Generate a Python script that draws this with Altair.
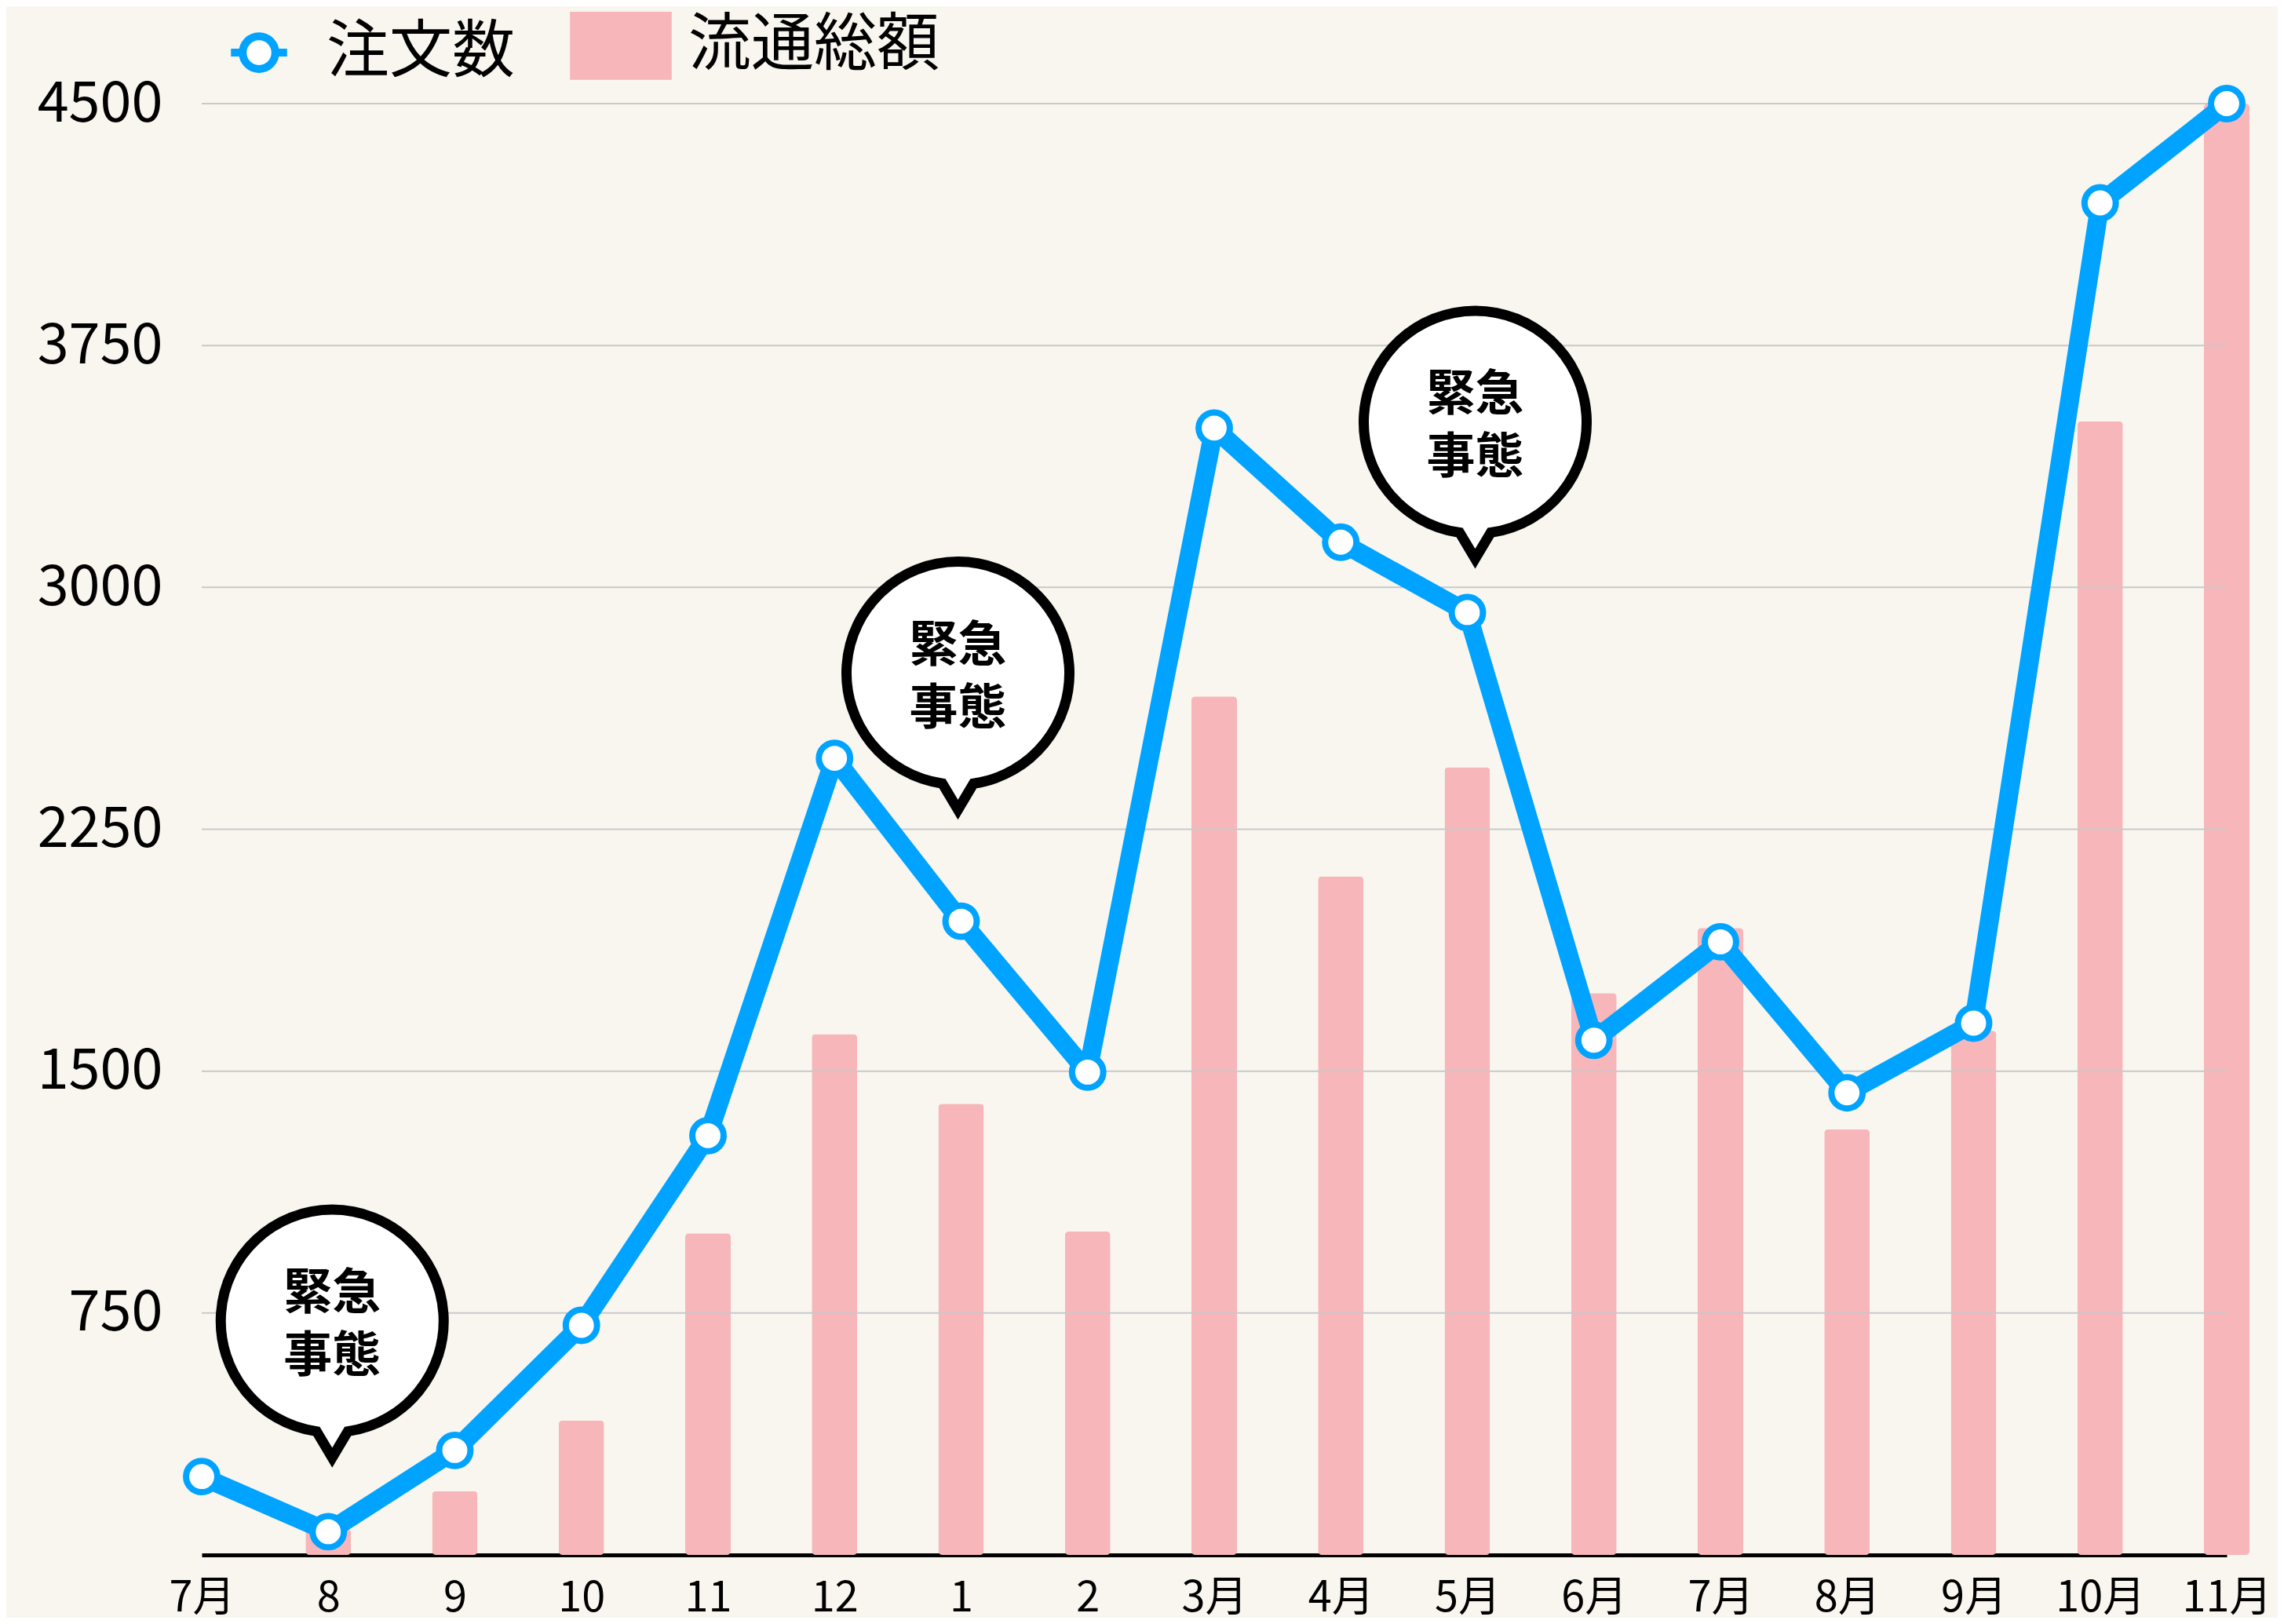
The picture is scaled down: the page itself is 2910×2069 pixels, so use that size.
import json
import altair as alt
import pandas as pd

# ---- data ----
x_labels = ["7月", "8", "9", "10", "11", "12", "1", "2", "3月", "4月", "5月",
            "6月", "7月", "8月", "9月", "10月", "11月"]
orders = [243, 72, 324, 712, 1300, 2470, 1965, 1497, 3494, 3140, 2922,
          1596, 1901, 1433, 1649, 4192, 4500]          # 注文数
gmv = [0, 80, 198, 417, 997, 1615, 1399, 1003, 2662, 2104, 2442,
       1742, 1944, 1320, 1625, 3515, 4500]             # 流通総額
y_ticks = [750, 1500, 2250, 3000, 3750, 4500]
bubble_idx = [1, 6, 10]
bubble_y = [725, 2734, 3512]
bubble_dx = [5, -4, 10]
bubble_text = ["緊急\n事態", "緊急\n事態", "緊急\n事態"]
series_names = ["注文数", "流通総額"]

BLUE = "#00a3ff"
PINK = "#f7b6ba"
BG = "#f8f6ef"
FONT = "Noto Sans CJK JP"

idx = list(range(len(x_labels)))
df = pd.DataFrame({"idx": idx, "orders": orders, "gmv": gmv})
bars_df = df[df["gmv"] > 0]
grid_df = pd.DataFrame({"tick": y_ticks})
bub_df = pd.DataFrame({"idx": bubble_idx, "y": bubble_y, "dx": bubble_dx, "t": bubble_text})
leg_df = pd.DataFrame({"series": series_names})

label_expr = json.dumps(x_labels, ensure_ascii=False) + "[datum.value]"

x_enc = alt.X(
    "idx:O",
    scale=alt.Scale(type="point", padding=0, domain=idx),
    axis=alt.Axis(
        title=None, labelExpr=label_expr, labelAngle=0, ticks=False, grid=False,
        domain=True, domainColor="black", domainWidth=5,
        labelFont=FONT, labelFontSize=54, labelColor="black", labelPadding=28,
    ),
)
y_scale = alt.Scale(domain=[0, 4500], nice=False, zero=True)
y_axis = alt.Axis(
    title=None, values=y_ticks, format="d", grid=False, ticks=False, domain=False,
    labelFont=FONT, labelFontSize=72, labelColor="black", labelPadding=50,
    labelLimit=400,
)


def Y(field):
    return alt.Y(field, scale=y_scale, axis=y_axis)


bars = alt.Chart(bars_df).mark_bar(
    width=58, cornerRadius=5, y2Offset=-18, color=PINK
).encode(x=x_enc, y=Y("gmv:Q"))

grid = alt.Chart(grid_df).mark_rule(color="#c9c9c9", strokeWidth=2).encode(
    y=Y("tick:Q")
)

line = alt.Chart(df).mark_line(color=BLUE, strokeWidth=24, strokeJoin="round").encode(
    x=x_enc, y=Y("orders:Q")
)

points = alt.Chart(df).mark_point(
    filled=True, fill="white", stroke=BLUE, strokeWidth=8, size=1590, opacity=1
).encode(x=x_enc, y=Y("orders:Q"))

bubble_path = "M-0.14,0.99 A1,1 0 1,1 0.14,0.99 L0,1.225 Z"
bubbles = alt.Chart(bub_df).mark_point(
    shape=bubble_path, size=80656, filled=True, fill="white", stroke="black",
    strokeWidth=13, opacity=1, strokeJoin="miter", strokeMiterLimit=10,
).encode(x=x_enc, xOffset=alt.XOffset("dx:Q", scale=None), y=Y("y:Q"))

btext = alt.Chart(bub_df).mark_text(
    font=FONT, fontSize=62, fontWeight="bold", lineHeight=80, lineBreak="\n",
    align="center", baseline="middle", dy=-34, color="black",
).encode(x=x_enc, xOffset=alt.XOffset("dx:Q", scale=None), y=Y("y:Q"), text="t:N")

# legend-only layer (invisible marks; legend symbols come from the scales)
sym_line_circle = ("M-0.55,0 H-0.32 M0.32,0 H0.55 "
                   "M0.32,0 A0.32,0.32 0 1,1 -0.32,0 A0.32,0.32 0 1,1 0.32,0 Z")
sym_rect = "M-0.92,-0.59 H0.92 V0.59 H-0.92 Z"
leg = alt.Legend(
    title=None, orient="none", legendX=3, legendY=-144, direction="horizontal",
    symbolSize=16900, symbolStrokeWidth=10, symbolOpacity=1,
    labelFont=FONT, labelFontSize=80, labelColor="black", labelOffset=16,
    labelLimit=1000, columnPadding=55, padding=0,
)
legend_layer = alt.Chart(leg_df).mark_point(opacity=0, filled=True).encode(
    fill=alt.Fill("series:N", scale=alt.Scale(domain=series_names, range=["white", PINK]), legend=leg),
    stroke=alt.Stroke("series:N", scale=alt.Scale(domain=series_names, range=[BLUE, PINK]), legend=leg),
    shape=alt.Shape("series:N", scale=alt.Scale(domain=series_names, range=[sym_line_circle, sym_rect]), legend=leg),
)

chart = alt.layer(bars, grid, line, points, bubbles, btext, legend_layer).properties(
    width=2580, height=1849,
    padding={"left": 249, "top": 124, "right": 65, "bottom": 80},
    autosize=alt.AutoSizeParams(type="none"),
    background=BG,
).configure_view(stroke=None)

chart.save("out.html", embed_options={"renderer": "svg", "actions": False})
